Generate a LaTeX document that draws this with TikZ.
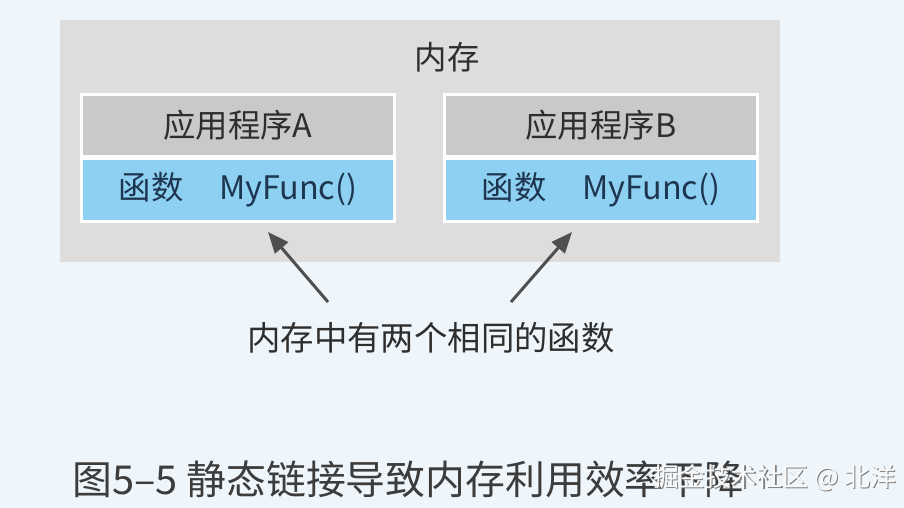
\documentclass[tikz,border=0pt]{standalone}
\usepackage{fontspec}
\newfontfamily\cjk{Noto Sans CJK SC}
\usetikzlibrary{arrows.meta}
\definecolor{bg}{HTML}{EEF5FB}
\definecolor{memgray}{HTML}{DDDDDD}
\definecolor{hdgray}{HTML}{C9C9C9}
\definecolor{fnblue}{HTML}{8ED0F2}
\definecolor{txt}{HTML}{2E2E2E}
\definecolor{fntxt}{HTML}{1E3550}
\definecolor{arr}{HTML}{4F4F4F}
\definecolor{cap}{HTML}{3C3C3C}
\tikzset{
  memrect/.style={rectangle, fill=memgray, minimum width=720bp, minimum height=242bp, inner sep=0pt},
  framebox/.style={rectangle, fill=white, minimum width=316bp, minimum height=130bp, inner sep=0pt},
  headbox/.style={rectangle, fill=hdgray, minimum width=310bp, minimum height=59bp, inner sep=0pt,
    text=txt, font=\cjk\fontsize{32.5}{36}\selectfont},
  funcbox/.style={rectangle, fill=fnblue, minimum width=310bp, minimum height=60bp, inner sep=0pt,
    text=fntxt, font=\cjk\fontsize{32.5}{36}\selectfont},
  plaintext/.style={inner sep=0pt, text=txt, font=\cjk\fontsize{32.5}{36}\selectfont},
  pointer/.style={draw=arr, line width=3bp, -{Triangle[length=21bp,width=17bp]}, fill=arr},
  captext/.style={inner sep=0pt, anchor=west, text=cap, font=\cjk\fontsize{40}{44}\selectfont},
  wmtext/.style={inner sep=0pt, anchor=west, font=\cjk\fontsize{26}{30}\selectfont}
}
\begin{document}
\begin{tikzpicture}[x=1bp,y=-1bp]
\useasboundingbox (0,0) rectangle (904,508);
\fill[bg] (0,0) rectangle (904,508);
% memory block
\node[memrect] (mem) at (420,141) {};
\node[plaintext] (memtitle) at (447,57) {内存};
% application A
\node[framebox] (frameA) at (238,158) {};
\node[headbox] (headA) at (238,125.5) {应用程序A};
\node[funcbox] (funcA) at (238,190) {函数\hspace{1.1em}MyFunc()};
% application B
\node[framebox] (frameB) at (601,158) {};
\node[headbox] (headB) at (601,125.5) {应用程序B};
\node[funcbox] (funcB) at (601,190) {函数\hspace{1.1em}MyFunc()};
% note and arrows
\node[plaintext, font=\cjk\fontsize{33.5}{38}\selectfont] (note) at (431,338) {内存中有两个相同的函数};
\coordinate (tailA) at (328,302);
\coordinate (tipA) at (268,232);
\coordinate (tailB) at (511,302);
\coordinate (tipB) at (572,232);
\draw[pointer] (tailA) -- (tipA);
\draw[pointer] (tailB) -- (tipB);
% caption
\node[captext] (caption) at (72,479) {图5–5 静态链接导致内存利用效率下降};
% watermark
\node[wmtext, text=gray] (wmshadow) at (654.2,479.2) {掘金技术社区 @ 北洋};
\node[wmtext, text=white!96!gray] (watermark) at (653,478) {掘金技术社区 @ 北洋};
\end{tikzpicture}
\end{document}
